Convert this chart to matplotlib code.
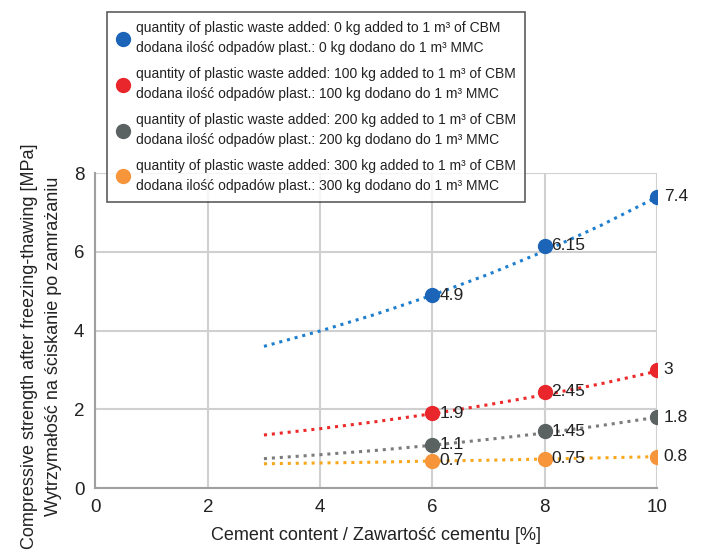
import numpy as np
import matplotlib
matplotlib.use("Agg")
import matplotlib.pyplot as plt

plt.rcParams['font.family'] = ['Liberation Sans', 'DejaVu Sans']

cement = [6, 8, 10]
s0 = [4.9, 6.15, 7.4]
s100 = [1.9, 2.45, 3.0]
s200 = [1.1, 1.45, 1.8]
s300 = [0.7, 0.75, 0.8]
labels0 = ["4.9", "6.15", "7.4"]
labels100 = ["1.9", "2.45", "3"]
labels200 = ["1.1", "1.45", "1.8"]
labels300 = ["0.7", "0.75", "0.8"]

# dotted trend lines
trend_x = [3, 4, 5, 6, 7, 8, 9, 10]
trend0 = [3.6, 3.99, 4.42, 4.9, 5.43, 6.02, 6.67, 7.39]
trend100 = [1.35, 1.51, 1.69, 1.89, 2.12, 2.37, 2.65, 2.97]
trend200 = [0.75, 0.85, 0.96, 1.09, 1.24, 1.4, 1.59, 1.8]
trend300 = [0.62, 0.64, 0.66, 0.69, 0.71, 0.74, 0.77, 0.8]

names = [
    "quantity of plastic waste added: %s kg added to 1 m³ of CBM\n"
    "dodana ilość odpadów plast.: %s kg dodano do 1 m³ MMC" % (q, q)
    for q in ["0", "100", "200", "300"]
]

series = [s0, s100, s200, s300]
trends = [trend0, trend100, trend200, trend300]
labs = [labels0, labels100, labels200, labels300]
mcol = ["#1b64b8", "#e8262b", "#5b6262", "#f6953a"]
tcol = ["#1f7fcf", "#ec2a2a", "#7c7c7c", "#f8a81e"]

fig = plt.figure(figsize=(7.02, 5.51), dpi=100)
ax = fig.add_axes([0.136, 0.114, 0.8, 0.572])

handles = []
for y, t, lb, mc, tc in zip(series, trends, labs, mcol, tcol):
    ax.plot(trend_x, t, linestyle=(0, (1, 1.6)), color=tc, linewidth=2.2, zorder=2)
    h, = ax.plot(cement, y, 'o', color=mc, markersize=10, zorder=3, linestyle='none')
    handles.append(h)
    for xi, yi, s in zip(cement, y, lb):
        ax.text(xi + 0.12, yi, s, fontsize=12.5, va='center', ha='left', color='#222222', zorder=4)

ax.set_xlim(0, 10)
ax.set_ylim(0, 8)
ax.set_xticks([0, 2, 4, 6, 8, 10])
ax.set_yticks([0, 2, 4, 6, 8])
ax.grid(True, color='#d0d0d0', linewidth=1.5)
ax.set_axisbelow(True)
for sp in ['top', 'right']:
    ax.spines[sp].set_visible(False)
for sp in ['left', 'bottom']:
    ax.spines[sp].set_color('#a0a0a0')
    ax.spines[sp].set_linewidth(1.5)
ax.tick_params(length=0, labelsize=13.5, pad=8, colors='#222222')
ax.set_xlabel("Cement content / Zawartość cementu [%]", fontsize=13, color='#222222', labelpad=8)
ax.set_ylabel("Compressive strength after freezing-thawing [MPa]\nWytrzymałość na ściskanie po zamrażaniu",
              fontsize=13, color='#222222', linespacing=1.55)
ax.yaxis.set_label_coords(-0.06, 0.45)

leg = fig.legend(handles, names, loc='upper left', bbox_to_anchor=(0.152, 0.978),
                 fontsize=10.0, frameon=True, fancybox=False, edgecolor='#333333',
                 handletextpad=0.45, borderpad=0.65, labelspacing=0.85, handlelength=1.0,
                 borderaxespad=0)
leg.get_frame().set_linewidth(1.2)
for t in leg.get_texts():
    t.set_linespacing(1.55)
    t.set_color('#222222')

fig.savefig("out.png", dpi=100)
